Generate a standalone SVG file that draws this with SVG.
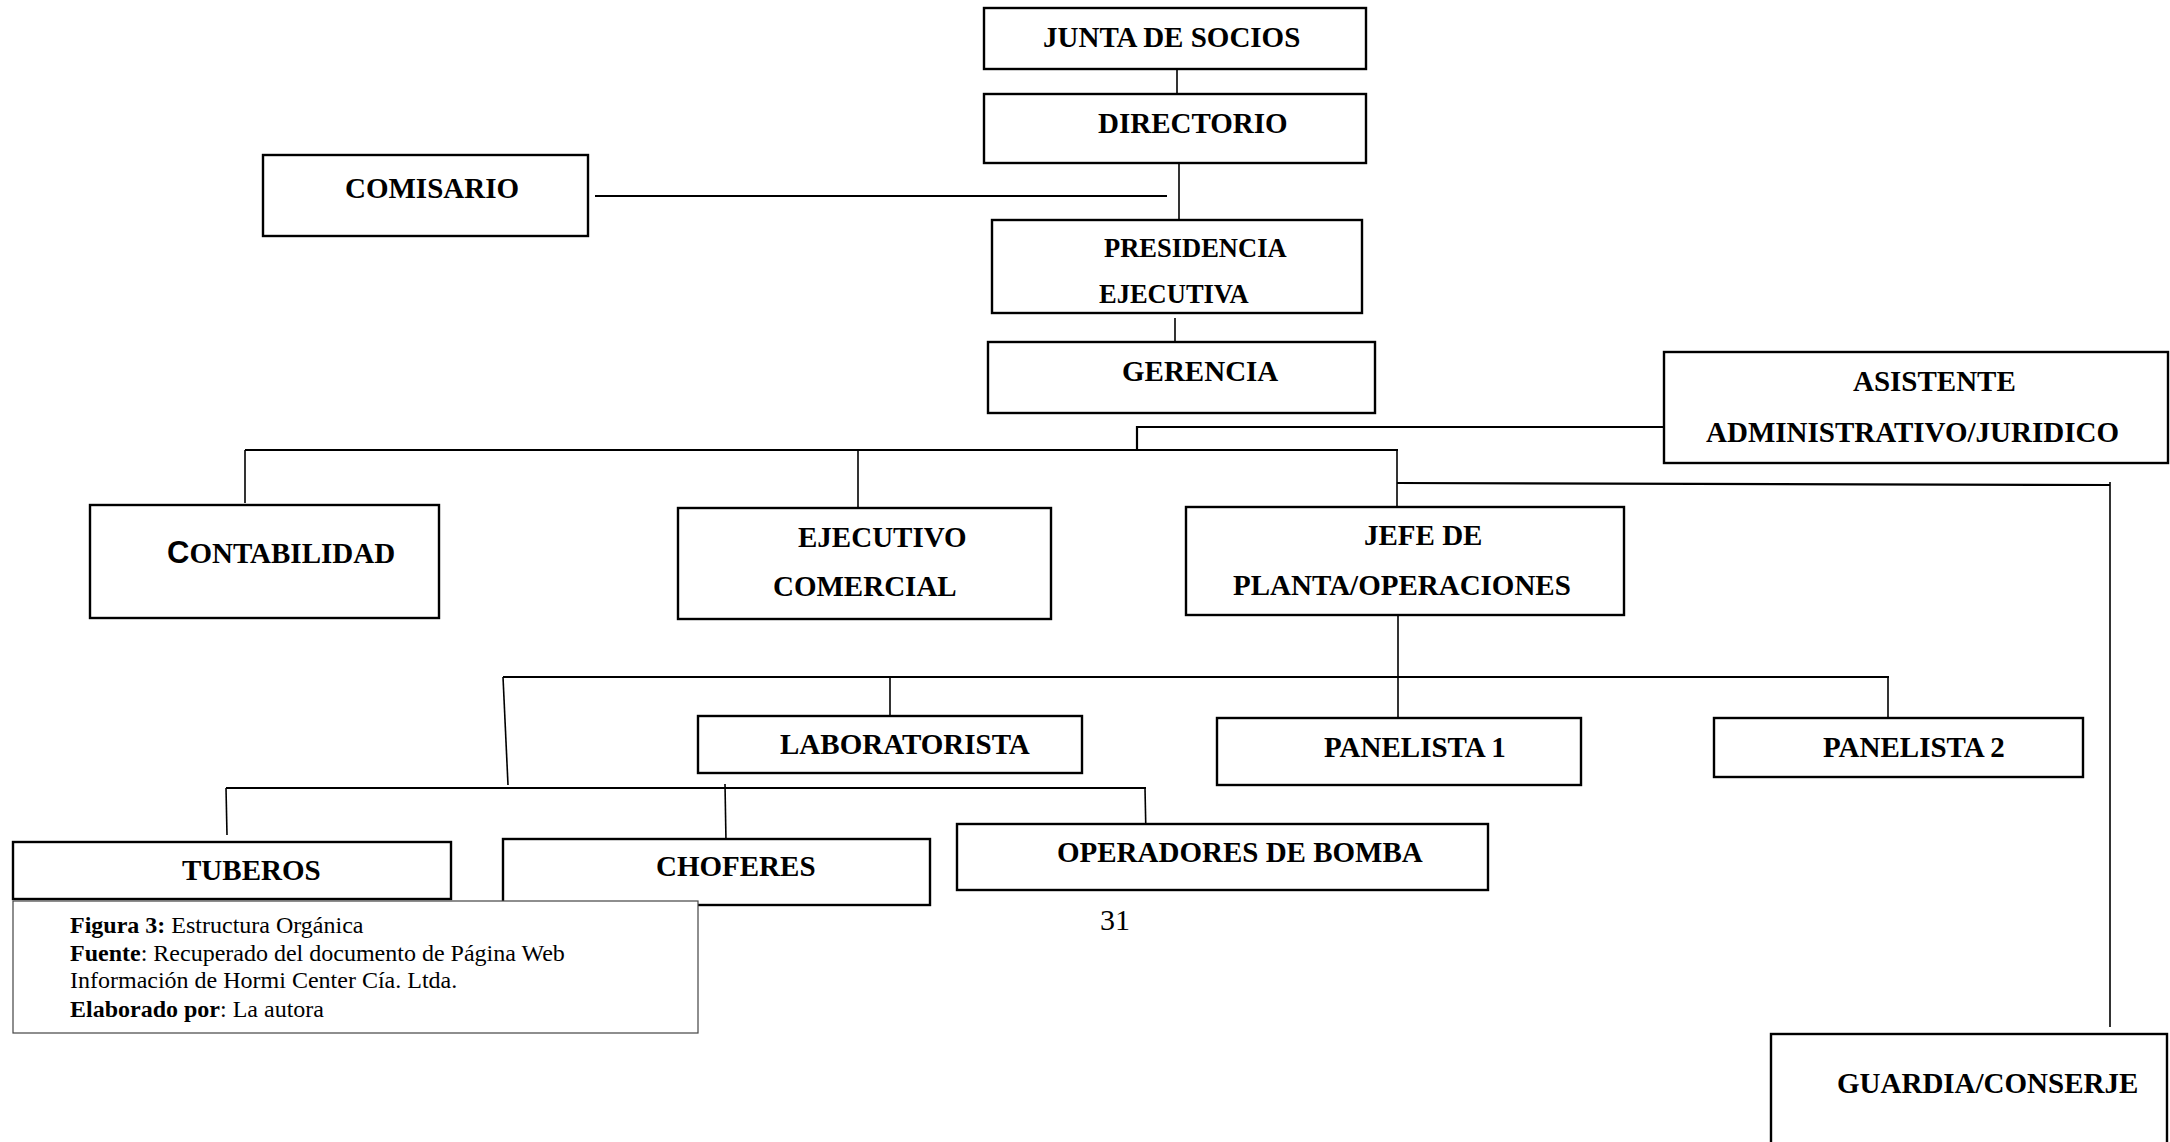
<svg xmlns="http://www.w3.org/2000/svg" width="2170" height="1142" viewBox="0 0 2170 1142">
<style>
.box{fill:#fff;stroke:#000;stroke-width:2.4}
.lbl{font-family:"Liberation Serif","Times New Roman",serif;font-weight:bold;font-size:29px;fill:#000}
.sm{font-size:26.5px}
.ln{fill:none;stroke:#000;stroke-width:1.6}
.bus{fill:none;stroke:#000;stroke-width:2.2}
.cap{font-family:"Liberation Serif","Times New Roman",serif;font-size:24px;fill:#000}
</style>
<rect width="2170" height="1142" fill="#fff"/>
<g id="connectors">
<line class="ln" x1="1177" y1="69" x2="1177" y2="94"/>
<line class="ln" x1="1179" y1="163" x2="1179" y2="219"/>
<line class="bus" x1="595" y1="196" x2="1167" y2="196"/>
<line class="ln" x1="1175" y1="318" x2="1175" y2="343"/>
<polyline class="bus" points="1664,427 1137,427 1137,450"/>
<line class="bus" x1="245" y1="450" x2="1398" y2="450"/>
<line class="ln" x1="245" y1="450" x2="245" y2="503"/>
<line class="ln" x1="858" y1="450" x2="858" y2="508"/>
<line class="ln" x1="1397" y1="450" x2="1397" y2="507"/>
<line class="bus" x1="1397" y1="483" x2="2110" y2="485"/>
<line class="ln" x1="2110" y1="482" x2="2110" y2="1027"/>
<line class="ln" x1="1398" y1="615" x2="1398" y2="718"/>
<line class="bus" x1="503" y1="677" x2="1889" y2="677"/>
<line class="ln" x1="503" y1="677" x2="508" y2="785"/>
<line class="ln" x1="890" y1="677" x2="890" y2="719"/>
<line class="ln" x1="1888" y1="677" x2="1888" y2="718"/>
<line class="bus" x1="226" y1="788" x2="1146" y2="788"/>
<line class="ln" x1="226" y1="788" x2="227" y2="835"/>
<line class="ln" x1="725" y1="784" x2="726" y2="842"/>
<line class="ln" x1="1145" y1="788" x2="1146" y2="837"/>
</g>
<g id="junta"><rect class="box" x="984" y="8" width="382" height="61"/><text class="lbl" x="1043" y="47">JUNTA DE SOCIOS</text></g>
<g id="directorio"><rect class="box" x="984" y="94" width="382" height="69"/><text class="lbl" x="1098" y="133">DIRECTORIO</text></g>
<g id="comisario"><rect class="box" x="263" y="155" width="325" height="81"/><text class="lbl" x="345" y="198">COMISARIO</text></g>
<g id="presidencia"><rect class="box" x="992" y="220" width="370" height="93"/><text class="lbl sm" x="1104" y="257">PRESIDENCIA</text><text class="lbl sm" x="1099" y="303">EJECUTIVA</text></g>
<g id="gerencia"><rect class="box" x="988" y="342" width="387" height="71"/><text class="lbl" x="1122" y="381">GERENCIA</text></g>
<g id="asistente"><rect class="box" x="1664" y="352" width="504" height="111"/><text class="lbl" x="1853" y="391">ASISTENTE</text><text class="lbl" x="1706" y="442">ADMINISTRATIVO/JURIDICO</text></g>
<g id="contabilidad"><rect class="box" x="90" y="505" width="349" height="113"/><text class="lbl" x="167" y="563"><tspan font-family="'Liberation Sans',Arial,sans-serif" font-size="31">C</tspan>ONTABILIDAD</text></g>
<g id="ejecutivo"><rect class="box" x="678" y="508" width="373" height="111"/><text class="lbl" x="798" y="547">EJECUTIVO</text><text class="lbl" x="773" y="596">COMERCIAL</text></g>
<g id="jefe"><rect class="box" x="1186" y="507" width="438" height="108"/><text class="lbl" x="1364" y="545">JEFE DE</text><text class="lbl" x="1233" y="595">PLANTA/OPERACIONES</text></g>
<g id="laboratorista"><rect class="box" x="698" y="716" width="384" height="57"/><text class="lbl" x="780" y="754">LABORATORISTA</text></g>
<g id="panelista1"><rect class="box" x="1217" y="718" width="364" height="67"/><text class="lbl" x="1324" y="757">PANELISTA 1</text></g>
<g id="panelista2"><rect class="box" x="1714" y="718" width="369" height="59"/><text class="lbl" x="1823" y="757">PANELISTA 2</text></g>
<g id="tuberos"><rect class="box" x="13" y="842" width="438" height="57"/><text class="lbl" x="182" y="880">TUBEROS</text></g>
<g id="choferes"><rect class="box" x="503" y="839" width="427" height="66"/><text class="lbl" x="656" y="876">CHOFERES</text></g>
<g id="operadores"><rect class="box" x="957" y="824" width="531" height="66"/><text class="lbl" x="1057" y="862">OPERADORES DE BOMBA</text></g>
<g id="guardia"><rect class="box" x="1771" y="1034" width="396" height="130"/><text class="lbl" x="1837" y="1093">GUARDIA/CONSERJE</text></g>
<g id="caption">
<rect x="13" y="901" width="685" height="132" fill="#fff" stroke="#444" stroke-width="1.2"/>
<text class="cap" x="70" y="933"><tspan font-weight="bold">Figura 3:</tspan> Estructura Orgánica</text>
<text class="cap" x="70" y="961"><tspan font-weight="bold">Fuente</tspan>: Recuperado del documento de Página Web</text>
<text class="cap" x="70" y="988">Información de Hormi Center Cía. Ltda.</text>
<text class="cap" x="70" y="1017"><tspan font-weight="bold">Elaborado por</tspan>: La autora</text>
</g>
<text id="page" x="1100" y="930" font-family="'Liberation Serif','Times New Roman',serif" font-size="30" fill="#000">31</text>
</svg>
